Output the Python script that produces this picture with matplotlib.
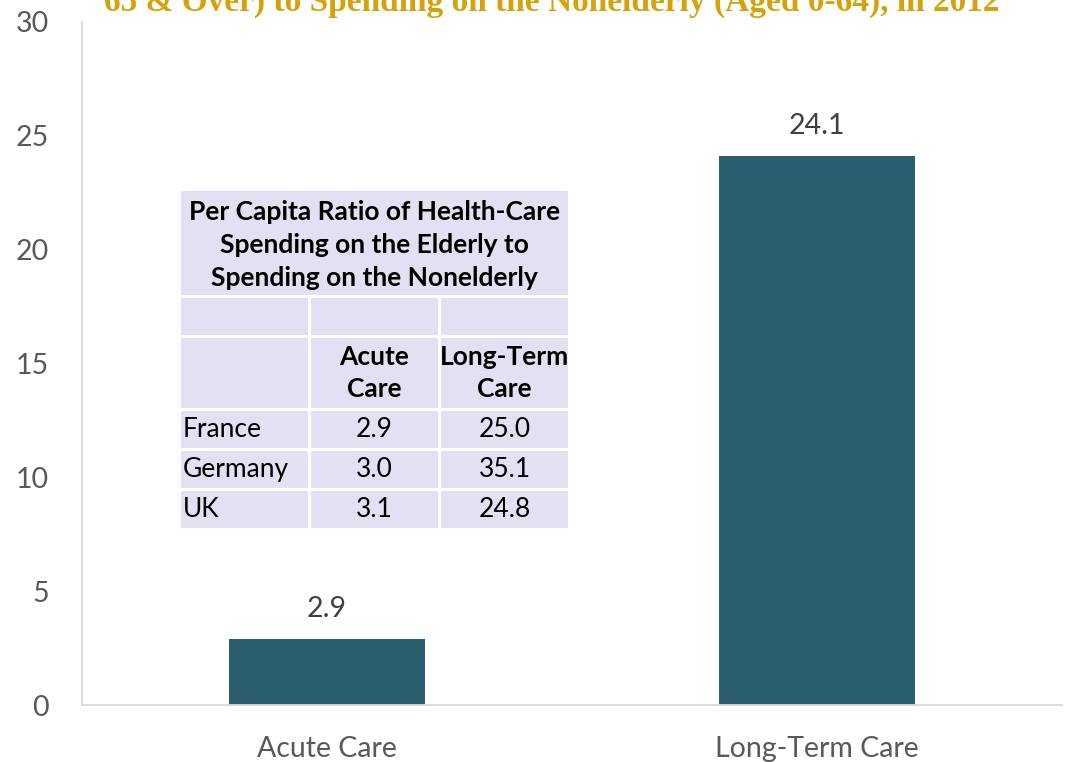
import matplotlib.pyplot as plt
from matplotlib.patches import Rectangle

categories = ["Acute Care", "Long-Term Care"]
values = [2.9, 24.1]

table_title = "Per Capita Ratio of Health-Care\nSpending on the Elderly to\nSpending on the Nonelderly"
table_cols = ["Acute\nCare", "Long-Term\nCare"]
countries = ["France", "Germany", "UK"]
acute = [2.9, 3.0, 3.1]
longterm = [25.0, 35.1, 24.8]

title = "Per Capita Ratio of Health-Care Spending on the Elderly (Aged\n65 & Over) to Spending on the Nonelderly (Aged 0-64), in 2012"

W, H = 1066, 762
plt.rcParams['font.family'] = ['Lato', 'DejaVu Sans']
fig = plt.figure(figsize=(W / 100, H / 100), dpi=100)
ax = fig.add_axes([82 / W, 1 - 705 / H, (1062 - 82) / W, (705 - 22) / H])

bar_color = "#2B5F6F"
ax.bar(range(len(categories)), values, width=0.4, color=bar_color)
for i, v in enumerate(values):
    ax.text(i, v + 0.75, f"{v:.1f}", ha="center", va="bottom", fontsize=20.5, color="#404040")

ax.set_xlim(-0.5, 1.5)
ax.set_ylim(0, 30)
ax.set_yticks(range(0, 31, 5))
ax.set_xticks(range(len(categories)))
ax.set_xticklabels(categories)
ax.tick_params(axis="both", length=0, labelsize=20.5, labelcolor="#595959")
ax.tick_params(axis="y", pad=24)
ax.tick_params(axis="x", pad=22)
for s in ["top", "right"]:
    ax.spines[s].set_visible(False)
ax.spines["left"].set_color("#D9D9D9")
ax.spines["bottom"].set_color("#D9D9D9")
ax.spines["left"].set_linewidth(1.3)
ax.spines["bottom"].set_linewidth(1.3)

# title, clipped at the top of the image as in the source
fig.text(552 / W, 1 - 11 / H, title, ha="center", va="baseline", fontsize=24,
         fontweight="bold", color="#D4A20A", family="Liberation Serif", linespacing=1.15)

# inset table drawn in figure pixels
cell_fill = "#E4E0F3"

def px_rect(x0, y0, x1, y1):
    fig.add_artist(Rectangle((x0 / W, 1 - y1 / H), (x1 - x0) / W, (y1 - y0) / H,
                             transform=fig.transFigure, facecolor=cell_fill, edgecolor="none"))

def px_text(x, y, s, ha="center", bold=False, size=19):
    fig.text(x / W, 1 - y / H, s, ha=ha, va="center", fontsize=size,
             fontweight="bold" if bold else "normal", color="black",
             linespacing=1.43)

col_x = [(181, 308), (311, 438), (441, 568)]
px_rect(181, 191, 568, 295)
px_text(374.5, 245, table_title, bold=True)
rows_y = [(298, 335), (338, 408), (411, 448), (451, 488), (491, 528)]
for (y0, y1) in rows_y:
    for (x0, x1) in col_x:
        px_rect(x0, y0, x1, y1)

hy = sum(rows_y[1]) / 2
for j, c in enumerate(table_cols):
    px_text(sum(col_x[j + 1]) / 2, hy, c, bold=True)
for i, name in enumerate(countries):
    ry = sum(rows_y[i + 2]) / 2
    px_text(183, ry, name, ha="left")
    px_text(sum(col_x[1]) / 2, ry, f"{acute[i]:.1f}")
    px_text(sum(col_x[2]) / 2, ry, f"{longterm[i]:.1f}")

fig.savefig("out.png", dpi=100)
